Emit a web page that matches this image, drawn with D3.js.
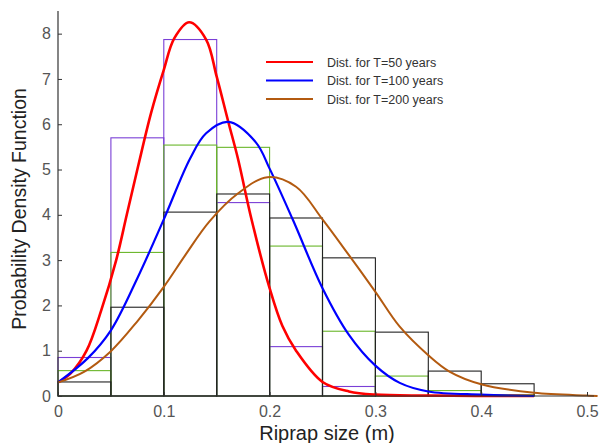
<!DOCTYPE html>
<html>
<head>
<meta charset="utf-8">
<script src="https://cdn.jsdelivr.net/npm/d3@7"></script>
<style>
  body { margin: 0; background: #fff; }
  text { font-family: "Liberation Sans", Arial, sans-serif; }
</style>
</head>
<body>
<svg id="chart" width="600" height="443"></svg>
<script>
// bin edges of the histograms (m)
var binEdges = [0, 0.05, 0.1, 0.15, 0.2, 0.25, 0.3, 0.35, 0.4, 0.45];

// histogram heights per bin
var histPurple = [0.85, 5.70, 7.87, 4.27, 1.09, 0.21, 0, 0, 0];
var histGreen = [0.56, 3.17, 5.54, 5.49, 3.31, 1.43, 0.44, 0.12, 0.03];
var histBlack = [0.31, 1.96, 4.06, 4.46, 3.93, 3.05, 1.41, 0.55, 0.27];

// fitted curves
var xT50 = [0, 0.012, 0.027, 0.041, 0.055, 0.065, 0.076, 0.088, 0.1, 0.11, 0.124, 0.14, 0.15, 0.161, 0.17, 0.183, 0.2, 0.212, 0.225, 0.25, 0.275, 0.3, 0.35, 0.45];
var yT50 = [0.3, 0.5, 1.0, 1.9, 3.0, 4.0, 5.1, 6.25, 7.2, 7.9, 8.25, 7.87, 7.05, 6.05, 5.25, 3.89, 2.38, 1.55, 1.0, 0.31, 0.1, 0.03, 0.01, 0];

var xT100 = [0, 0.028, 0.05, 0.075, 0.1, 0.125, 0.14, 0.161, 0.187, 0.2, 0.222, 0.25, 0.275, 0.3, 0.323, 0.35, 0.4, 0.45];
var yT100 = [0.3, 0.83, 1.45, 2.6, 3.9, 5.25, 5.8, 6.05, 5.6, 5.02, 3.89, 2.38, 1.35, 0.67, 0.29, 0.1, 0.03, 0];

var xT200 = [0, 0.025, 0.05, 0.075, 0.1, 0.12, 0.143, 0.17, 0.198, 0.225, 0.25, 0.275, 0.3, 0.323, 0.35, 0.37, 0.4, 0.45, 0.5, 0.51];
var yT200 = [0.3, 0.54, 0.99, 1.65, 2.41, 3.1, 3.85, 4.47, 4.83, 4.62, 3.9, 3.11, 2.3, 1.53, 0.9, 0.54, 0.26, 0.07, 0.01, 0];

var legendLabels = ["Dist. for T=50 years", "Dist. for T=100 years", "Dist. for T=200 years"];
var xTicks = [0, 0.1, 0.2, 0.3, 0.4, 0.5];
var yTicks = [0, 1, 2, 3, 4, 5, 6, 7, 8];

var svg = d3.select("#chart");

var x = d3.scaleLinear().domain([0, 0.5]).range([58, 587]);
var y = d3.scaleLinear().domain([0, 8.5]).range([396, 11]);

// histograms: purple first, black on top
function drawHist(vals, color) {
  var bins = vals.map(function(v, i) {
    return { x0: binEdges[i], x1: binEdges[i + 1], v: v };
  });
  svg.append("g").selectAll("rect")
    .data(bins)
    .enter().append("rect")
    .attr("x", function(d) { return x(d.x0); })
    .attr("y", function(d) { return y(d.v); })
    .attr("width", function(d) { return x(d.x1) - x(d.x0); })
    .attr("height", function(d) { return y(0) - y(d.v); })
    .attr("fill", "none")
    .attr("stroke", color)
    .attr("stroke-width", 1.1);
}
drawHist(histPurple, "#7a3fd6");
drawHist(histGreen, "#6ab62a");
drawHist(histBlack, "#222");

// curves
var line = d3.line()
  .x(function(d) { return x(d[0]); })
  .y(function(d) { return y(Math.max(0, d[1])); })
  .curve(d3.curveCatmullRom.alpha(0.5));

var curves = [
  { xs: xT50, ys: yT50, color: "#ff0000", w: 2.6 },
  { xs: xT100, ys: yT100, color: "#0000ff", w: 2.2 },
  { xs: xT200, ys: yT200, color: "#b35a10", w: 2.0 }
];

curves.forEach(function(c) {
  svg.append("path")
    .datum(d3.zip(c.xs, c.ys))
    .attr("fill", "none")
    .attr("stroke", c.color)
    .attr("stroke-width", c.w)
    .attr("d", line);
});

// axes
var xAxis = d3.axisBottom(x).tickValues(xTicks)
  .tickSizeInner(-4).tickSizeOuter(0).tickPadding(10)
  .tickFormat(function(d) { return d === 0 ? "0" : d3.format(".1f")(d); });
var gx = svg.append("g").attr("transform", "translate(0," + y(0) + ")").call(xAxis);
gx.select(".domain").attr("d", "M" + x(0) + ",0H" + (x(0.5) + 7));

var yAxis = d3.axisLeft(y).tickValues(yTicks)
  .tickSizeInner(-4).tickSizeOuter(0).tickPadding(7);
var gy = svg.append("g").attr("transform", "translate(" + x(0) + ",0)").call(yAxis);
gy.select(".domain").attr("d", "M0," + y(0) + "V" + y(8.5));

[gx, gy].forEach(function(g) {
  g.select(".domain").attr("stroke", "#333").attr("stroke-width", 1.2);
  g.selectAll(".tick line").attr("stroke", "#333");
  g.selectAll(".tick text")
    .attr("fill", "#555")
    .style("font-size", "16px")
    .style("font-family", "'Liberation Sans', Arial, sans-serif");
});

// axis titles
svg.append("text")
  .attr("x", 327).attr("y", 440)
  .attr("text-anchor", "middle")
  .attr("fill", "#222")
  .style("font-size", "20px")
  .text("Riprap size (m)");

svg.append("text")
  .attr("transform", "translate(26," + 209 + ") rotate(-90)")
  .attr("text-anchor", "middle")
  .attr("fill", "#222")
  .style("font-size", "19.5px")
  .text("Probability Density Function");

// legend
var legend = svg.append("g");
legend.append("rect")
  .attr("x", 262).attr("y", 52).attr("width", 198).attr("height", 56)
  .attr("fill", "#fff");
legendLabels.forEach(function(lbl, i) {
  var ly = 62 + i * 18.5;
  legend.append("line")
    .attr("x1", 266).attr("x2", 313)
    .attr("y1", ly).attr("y2", ly)
    .attr("stroke", curves[i].color)
    .attr("stroke-width", 2.2);
  legend.append("text")
    .attr("x", 327).attr("y", ly + 4.5)
    .attr("fill", "#333")
    .style("font-size", "12.5px")
    .text(lbl);
});
</script>
</body>
</html>
